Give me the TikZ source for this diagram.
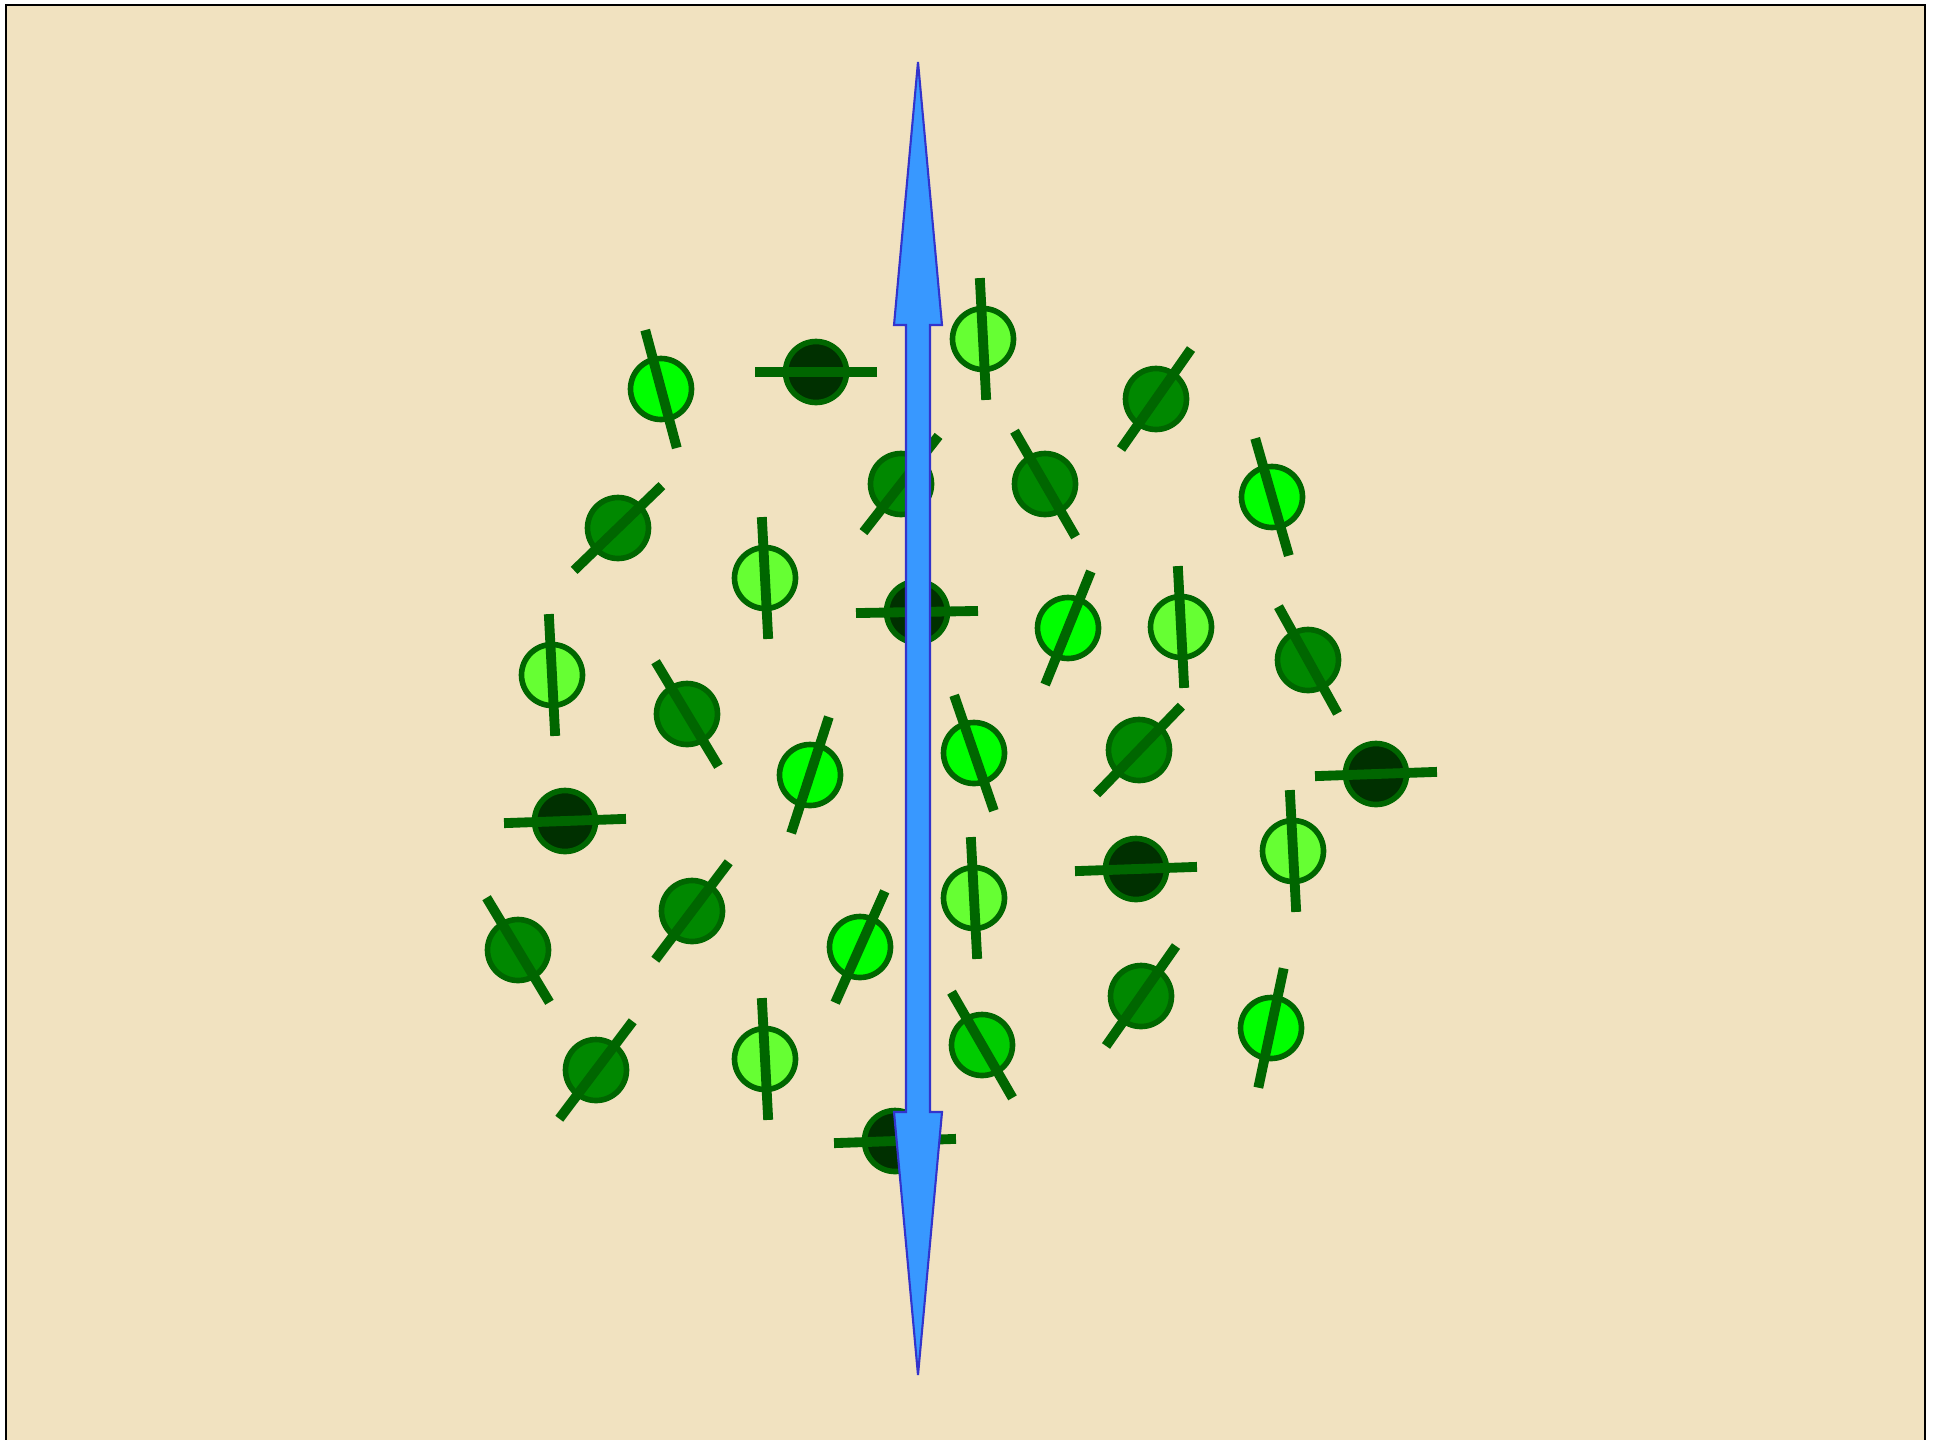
\documentclass[tikz,border=0pt]{standalone}
\usepackage{tikz}
\usetikzlibrary{calc}
\definecolor{paper}{RGB}{241,226,192}
\definecolor{mol-line}{RGB}{0,102,0}
\definecolor{mol-par}{RGB}{102,255,51}
\definecolor{mol-low}{RGB}{0,255,0}
\definecolor{mol-mid}{RGB}{0,204,0}
\definecolor{mol-high}{RGB}{0,136,0}
\definecolor{mol-perp}{RGB}{0,48,0}
\definecolor{axis-fill}{RGB}{56,152,255}
\definecolor{axis-line}{RGB}{51,51,204}

\begin{document}
\begin{tikzpicture}[x=0.1mm, y=-0.1mm,
    mol/.style={circle, draw=mol-line, line width=1.6pt, minimum size=6.1mm, inner sep=0pt},
    rod/.style={mol-line, line width=2.8pt}]
  \useasboundingbox (0,0) rectangle (1944,1439);
  \clip (0,0) rectangle (1944,1439);
  \fill[white] (0,0) rectangle (1944,1439);
  \filldraw[fill=paper, draw=black, line width=0.8pt] (6,5) rectangle (1925,1470);
  % molecules: x/y/colour/angle of the long axis
  \foreach \px/\py/\col/\ang [count=\i] in {
      661/389/mol-low/105, 816/372/mol-perp/0, 983/339/mol-par/93,
      1156/399/mol-high/55, 1272/497/mol-low/106, 618/528/mol-high/44,
      901/484/mol-high/52, 1045/484/mol-high/120, 765/578/mol-par/93,
      917/612/mol-perp/1, 1068/628/mol-low/68, 1181/627/mol-par/93,
      1308/660/mol-high/119, 552/675/mol-par/93, 687/714/mol-high/121,
      810/775/mol-low/72, 974/753/mol-low/109, 1139/750/mol-high/46,
      1376/774/mol-perp/2, 565/821/mol-perp/2, 1293/851/mol-par/93,
      1136/869/mol-perp/2, 974/898/mol-par/93, 518/950/mol-high/121,
      692/911/mol-high/53, 860/947/mol-low/66, 1141/996/mol-high/55,
      1271/1028/mol-low/78, 596/1070/mol-high/53, 765/1059/mol-par/93,
      982/1045/mol-mid/120, 895/1141/mol-perp/2} {
    \node[mol, fill=\col] (m\i) at (\px,\py) {};
    \draw[rod] ($(m\i.center)+(\ang:6.1mm)$) -- ($(m\i.center)+(\ang+180:6.1mm)$);
  }
  % director
  \coordinate (up) at (918,62);
  \coordinate (down) at (918,1375);
  \filldraw[fill=axis-fill, draw=axis-line, line width=0.6pt]
    (up) -- ($(up)+(24,263)$) -- ($(up)+(12,263)$) -- ($(down)+(12,-263)$)
    -- ($(down)+(24,-263)$) -- (down) -- ($(down)+(-24,-263)$) -- ($(down)+(-12,-263)$)
    -- ($(up)+(-12,263)$) -- ($(up)+(-24,263)$) -- cycle;
\end{tikzpicture}
\end{document}
